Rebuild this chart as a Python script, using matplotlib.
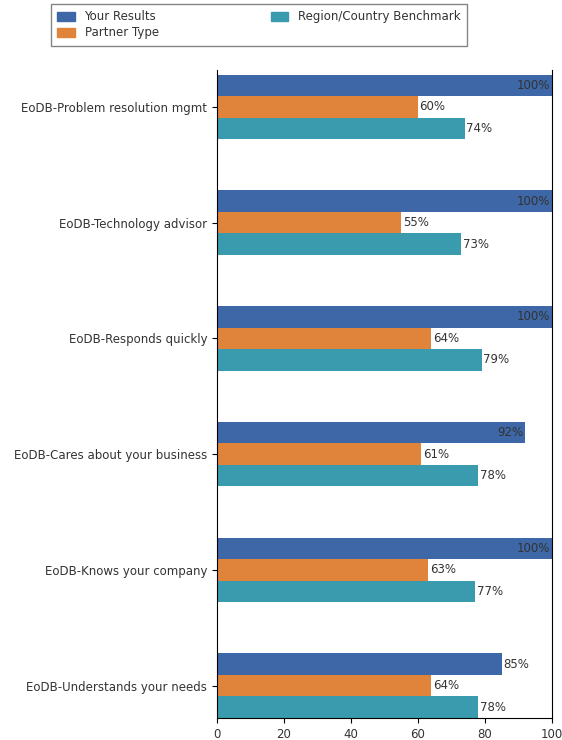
import numpy as np
import matplotlib.pyplot as plt
from matplotlib.patches import Patch

# === Datos ===
categories = ["EoDB-Problem resolution mgmt", "EoDB-Technology advisor",
              "EoDB-Responds quickly", "EoDB-Cares about your business",
              "EoDB-Knows your company", "EoDB-Understands your needs"]
your_results = [100, 100, 100, 92, 100, 85]
partner_type = [60, 55, 64, 61, 63, 64]
benchmark = [74, 73, 79, 78, 77, 78]
series_names = ["Your Results", "Partner Type", "Region/Country Benchmark"]
colors = ["#3d67a6", "#e0843c", "#3b9bae"]

fig = plt.figure(figsize=(5.62, 7.4), dpi=100)
ax = fig.add_axes([0.386, 0.0297, 0.596, 0.876])

n = len(categories)
pos = np.arange(n)
h = 0.186
txt = "#333333"
fs = 8.5

for i, (vals, c) in enumerate(zip([your_results, partner_type, benchmark], colors)):
    y = pos + (i - 1) * h
    ax.barh(y, vals, height=h, color=c)
    for yy, v in zip(y, vals):
        if v > 90:
            ax.text(v - 0.5, yy, f"{v}%", ha="right", va="center", fontsize=fs, color=txt)
        else:
            ax.text(v + 0.5, yy, f"{v}%", ha="left", va="center", fontsize=fs, color=txt)

ax.set_xlim(0, 100)
ax.set_ylim(n - 1 + 0.28, -0.32)
ax.set_yticks(pos)
ax.set_yticklabels(categories, fontsize=fs, color=txt)
ax.set_xticks([0, 20, 40, 60, 80, 100])
ax.tick_params(axis="x", labelsize=fs, labelcolor=txt)
ax.spines["top"].set_visible(False)

handles = [Patch(color=c) for c in colors]
leg = fig.legend(handles, series_names, loc="upper left", bbox_to_anchor=(0.08, 1.003),
                 ncol=2, fontsize=fs, frameon=True, fancybox=False, edgecolor="#666666",
                 handlelength=1.5, handleheight=0.8, columnspacing=9.5, labelspacing=0.25,
                 borderpad=0.55)
leg.get_frame().set_linewidth(1.0)
for t in leg.get_texts():
    t.set_color(txt)

fig.savefig("out.png", dpi=100)
